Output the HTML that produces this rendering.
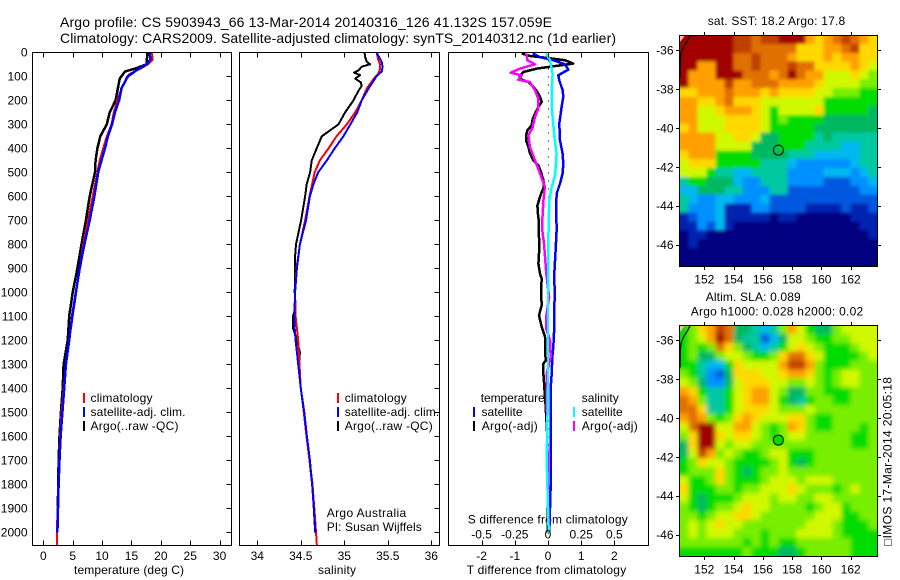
<!DOCTYPE html>
<html lang="en">
<head>
<meta charset="utf-8">
<title>Argo profile</title>
<style>
html,body{margin:0;padding:0;background:#fff;}
svg{display:block;font-family:"Liberation Sans",sans-serif;fill:#000;}
text{font-size:12px;}
.t14{font-size:14px;}
</style>
</head>
<body>
<svg id="chart" width="900" height="580" viewBox="0 0 900 580" xmlns="http://www.w3.org/2000/svg">
  <defs>
    <filter id="soft-sst" filterUnits="userSpaceOnUse" x="640" y="0" width="260" height="300"><feGaussianBlur stdDeviation="1.5"/></filter>
    <filter id="soft-sla" filterUnits="userSpaceOnUse" x="640" y="290" width="260" height="290"><feGaussianBlur stdDeviation="2.4"/></filter>
    <clipPath id="clip-sst"><rect x="679" y="35" width="199" height="232"/></clipPath>
    <clipPath id="clip-sla"><rect x="679" y="325" width="199" height="232"/></clipPath>
  </defs>
  <text class="t14" x="60" y="27" textLength="492">Argo profile: CS 5903943_66 13-Mar-2014 20140316_126 41.132S 157.059E</text>
  <text class="t14" x="60" y="43" textLength="556">Climatology: CARS2009. Satellite-adjusted climatology: synTS_20140312.nc (1d earlier)</text>

  <text x="74" y="574" textLength="110">temperature (deg C)</text>
  <text x="318" y="574" textLength="38">salinity</text>
  <text x="466.7" y="574" textLength="159.5">T difference from climatology</text>
  <text x="467.7" y="523.5" textLength="160">S difference from climatology</text>

  <g>
    <rect x="83" y="393" width="2" height="10" fill="#f00"/>
    <text x="90.5" y="402" textLength="62">climatology</text>
    <rect x="83" y="407" width="2" height="10" fill="#00f"/>
    <text x="90.5" y="416" textLength="95">satellite-adj. clim.</text>
    <rect x="83" y="421" width="2" height="10" fill="#000"/>
    <text x="90.5" y="430" textLength="88">Argo(..raw -QC)</text>
  </g>
  <g>
    <rect x="337" y="393" width="2" height="10" fill="#f00"/>
    <text x="344.7" y="402" textLength="62">climatology</text>
    <rect x="337" y="407" width="2" height="10" fill="#00f"/>
    <text x="344.7" y="416" textLength="94.5">satellite-adj. clim.</text>
    <rect x="337" y="421" width="2" height="10" fill="#000"/>
    <text x="344.7" y="430" textLength="88">Argo(..raw -QC)</text>
  </g>
  <text x="326.7" y="517" textLength="79.5">Argo Australia</text>
  <text x="326.7" y="531" textLength="95">PI: Susan Wijffels</text>

  <g>
    <text x="707.7" y="25" textLength="137.5">sat. SST: 18.2 Argo: 17.8</text>
    <text x="705.7" y="301" textLength="95">Altim. SLA: 0.089</text>
    <text x="690.7" y="315.3" textLength="172.5">Argo h1000: 0.028 h2000: 0.02</text>
  </g>
  <text transform="translate(891.5,546) rotate(-90)" textLength="169">□IMOS 17-Mar-2014 20:05:18</text>

  <g id="layer-plots"></g>
  <g id="layer-maps"></g>

  <g>
    <text x="480.7" y="402" textLength="64">temperature</text>
    <text x="581.7" y="402" textLength="37">salinity</text>
    <rect x="473" y="407" width="2" height="10" fill="#00f"/>
    <text x="481.5" y="416" textLength="41">satellite</text>
    <rect x="473" y="421" width="2" height="10" fill="#000"/>
    <text x="481.7" y="430" textLength="56">Argo(-adj)</text>
    <rect x="573" y="407" width="2" height="10" fill="#0ff"/>
    <text x="581.7" y="416" textLength="41">satellite</text>
    <rect x="573" y="421" width="2" height="10" fill="#f0f"/>
    <text x="581.7" y="430" textLength="56">Argo(-adj)</text>
  </g>
</svg>
<script>
/* ---------- data ---------- */
const depthTicks = [0,100,200,300,400,500,600,700,800,900,1000,1100,1200,1300,1400,1500,1600,1700,1800,1900,2000];
const tempTicks = [0,5,10,15,20,25,30];
const salTicks = [34,34.5,35,35.5,36];
const salTickLabels = ['34','34.5','35','35.5','36'];
const tDiffTicks = [-2,-1,0,1,2];
const sDiffTicks = [-0.5,-0.25,0,0.25,0.5];
const sDiffTickLabels = ['-0.5','-0.25','0','0.25','0.5'];
const lonTicks = [152,154,156,158,160,162];
const latTicks = [-36,-38,-40,-42,-44,-46];

const argoTempDepth = [0,50,68,80,110,150,200,250,300,350,400,450,500,600,700,800,900,1000,1100,1200,1300,1400,1500,1600,1700,1800,1900,2000];
const argoTemp = [17.7,17.6,15.6,13.9,13.0,12.7,12.3,11.3,10.8,9.7,9.2,8.9,8.8,7.9,7.25,6.5,5.8,5.0,4.4,4.15,3.45,3.3,3.0,2.75,2.6,2.55,2.45,2.4];
const climTempDepth = [0,30,50,70,90,100,150,200,250,300,350,400,450,500,600,700,800,900,1000,1100,1200,1300,1400,1500,1600,1700,1800,1900,2000,2055];
const climTemp = [18.5,18.6,17.8,16.4,14.7,14.3,13.3,12.6,12,11.6,10.8,10.2,9.6,9.2,8.4,7.6,6.8,6.2,5.6,5,4.4,3.9,3.45,3.1,2.85,2.7,2.55,2.45,2.3,2.3];
const satTempDepth = [0,30,50,70,90,100,150,200,250,300,350,400,450,500,600,700,800,900,1000,1100,1200,1300,1400,1500,1600,1700,1800,1900,2000];
const satTemp = [18.1,18.2,17.6,16.1,15,14.4,13.3,12.9,12.2,11.7,11,10.5,9.9,9.35,8.7,7.9,7.0,6.2,5.55,4.9,4.4,3.85,3.55,3.25,2.95,2.75,2.6,2.5,2.4];

const argoSalDepth = [0,20,40,50,60,75,85,95,110,125,140,160,200,250,300,330,350,400,450,500,550,600,700,800,850,900,1000,1060,1100,1150,1180,1250,1300,1400,1500,1600,1700,1800,1900,2000];
const argoSal = [35.232,35.24,35.259,35.298,35.2,35.163,35.113,35.182,35.125,35.19,35.2,35.163,35.106,35.01,34.933,34.818,34.741,34.683,34.626,34.607,34.568,34.549,34.503,34.445,34.434,34.434,34.43,34.44,34.41,34.41,34.44,34.49,34.48,34.5,34.54,34.57,34.6,34.63,34.65,34.665];
const climSalDepth = [0,30,50,70,90,100,150,200,250,300,350,400,450,500,550,600,700,800,900,1000,1100,1200,1400,1500,1600,1700,1800,1900,2000,2055];
const climSal = [35.37,35.39,35.41,35.41,35.39,35.36,35.26,35.2,35.125,35.03,34.91,34.82,34.72,34.66,34.63,34.6,34.55,34.49,34.45,34.435,34.44,34.47,34.5,34.535,34.565,34.6,34.635,34.655,34.675,34.685];
const satSalDepth = [0,20,40,60,80,100,150,200,250,300,350,400,450,500,550,600,700,800,900,1000,1100,1150,1200,1300,1400,1500,1600,1700,1800,1900,2000];
const satSal = [35.37,35.4,35.43,35.44,35.43,35.37,35.28,35.2,35.15,35.07,34.99,34.89,34.8,34.7,34.645,34.605,34.56,34.49,34.455,34.435,34.425,34.43,34.44,34.47,34.5,34.54,34.57,34.605,34.63,34.65,34.67];

const argoTDiffDepth = [5,15,20,33,47,68,82,96,110,124,144,165,186,207,228,249,278,304,325,346,367,394,422,450,471,499,533,561,582,610,639,675,710,742,811,881,922,943,992,1054,1096,1144,1186,1256,1283,1297,1339,1394,1450,1600,1800,2000];
const argoTDiff = [-0.79,-0.56,-0.24,0.51,0.76,-0.34,-0.74,-0.84,-0.86,-0.59,-0.44,-0.32,-0.24,-0.19,-0.29,-0.37,-0.46,-0.49,-0.62,-0.66,-0.66,-0.59,-0.54,-0.44,-0.29,-0.21,-0.14,-0.12,-0.19,-0.26,-0.32,-0.30,-0.27,-0.28,-0.26,-0.29,-0.24,-0.19,-0.21,-0.19,-0.27,-0.19,-0.09,-0.09,-0.06,-0.14,-0.14,-0.11,-0.08,-0.02,-0.01,0];
const satTDiffDepth = [5,20,33,50,72,96,117,158,186,228,297,367,422,464,505,547,589,644,742,826,922,992,1144,1228,1270,1339,1394,1600,1800,2000];
const satTDiff = [-0.46,-0.24,0.16,0.51,0.61,0.31,0.34,0.44,0.46,0.41,0.34,0.36,0.44,0.46,0.44,0.36,0.26,0.25,0.26,0.23,0.19,0.2,0.19,0.16,0.13,0.11,0.08,0.08,0.08,0.04];
const argoSDiffDepth = [5,33,50,68,85,96,114,124,158,193,235,269,314,346,394,450,505,561,617,700,742,797,867,922,1020,1108,1150,1200,1270,1339,1394,1600,2000];
const argoSDiff = [-0.161,-0.156,-0.098,-0.211,-0.281,-0.198,-0.224,-0.136,-0.098,-0.073,-0.073,-0.098,-0.116,-0.148,-0.136,-0.098,-0.06,-0.023,-0.035,-0.043,-0.043,-0.03,-0.02,-0.013,0.008,-0.015,-0.015,0.015,0.02,-0.01,-0.01,-0.005,0.005];
const satSDiffDepth = [5,33,89,158,242,353,422,478,513,561,617,769,1000,1400,1700,2000];
const satSDiff = [-0.015,0.015,0.035,0.028,0.03,0.048,0.065,0.058,0.053,0.028,0.01,0.003,0,0,-0.01,0.005];

/* colour-level index per map cell (rows north to south) */
const sstLevels = [
[14,14,14,14,14,14,13,13,12,13,13,14,14,14,11,10,11,12,13,12,11,10],
[14,14,14,14,14,14,13,13,12,12,12,12,12,10,10,10,11,11,12,13,10,10],
[14,14,14,14,14,14,12,12,13,12,12,12,11,10,10,10,11,10,11,11,10,10],
[14,14,11,11,14,14,12,12,13,12,12,12,13,12,12,10,10,10,10,11,10,9],
[14,11,11,11,14,14,14,12,12,12,11,12,14,12,11,11,9,9,9,10,9,8],
[14,11,11,11,11,13,11,11,12,12,12,11,11,11,11,10,9,9,9,9,8,8],
[10,10,11,11,11,12,11,11,11,10,11,10,10,10,10,9,9,8,8,8,7,7],
[11,11,10,10,11,12,10,10,10,9,9,9,9,9,9,9,7,7,7,7,7,7],
[11,11,9,9,10,11,11,11,10,9,7,9,9,9,9,10,7,7,7,7,7,6],
[11,11,9,9,9,10,10,10,10,9,7,8,7,7,7,7,6,6,6,6,6,6],
[10,11,9,9,9,10,10,10,10,9,7,7,7,7,7,6,6,6,6,6,6,6],
[11,11,11,11,9,9,10,10,9,6,6,7,7,7,7,5,6,5,5,5,5,5],
[11,11,11,11,9,9,9,9,6,6,6,7,7,7,5,5,5,5,4,4,5,5],
[10,11,11,11,7,7,7,7,6,6,6,6,5,5,5,4,4,4,4,4,5,5],
[9,10,10,10,7,7,7,7,7,5,5,5,4,3,3,3,3,3,3,4,5,5],
[9,9,9,7,5,5,4,4,5,5,5,5,3,3,3,3,4,4,4,3,4,5],
[5,7,7,6,6,6,4,3,3,5,5,5,3,3,3,3,2,2,2,3,3,4],
[4,4,6,6,6,5,5,3,3,3,5,5,2,2,2,2,2,2,2,2,3,3],
[5,4,3,3,4,4,3,3,3,4,2,2,2,2,2,2,2,2,2,2,2,2],
[5,3,3,3,4,1,1,1,3,3,2,2,2,2,1,1,1,1,2,1,1,2],
[1,2,3,3,4,1,1,1,1,1,0,1,1,0,0,0,0,0,0,1,1,1],
[1,1,3,2,4,1,0,0,0,0,0,0,0,0,0,0,0,0,0,0,1,1],
[0,1,1,0,0,0,0,0,0,0,0,0,0,0,0,0,0,0,0,0,0,1],
[0,1,0,0,0,0,0,0,0,0,0,0,0,0,0,0,0,0,0,0,0,0],
[0,0,0,0,0,0,0,0,0,0,0,0,0,0,0,0,0,0,0,0,0,0],
[0,0,0,0,0,0,0,0,0,0,0,0,0,0,0,0,0,0,0,0,0,0]
];
const slaLevels = [
[7,8,10,11,13,12,6,6,5,4,5,8,11,9,7,6,6,8,9,9,9,9],
[7,8,9,11,14,12,6,5,5,2,4,6,9,9,8,7,7,8,8,9,9,9],
[7,8,7,8,12,10,8,6,5,4,5,7,9,10,9,8,7,7,7,8,9,9],
[7,8,6,6,8,9,9,8,7,7,8,10,12,12,10,9,7,7,7,7,8,9],
[7,7,5,4,4,7,10,9,9,9,9,11,13,13,11,8,7,7,7,8,8,8],
[8,7,5,3,2,6,10,10,10,9,9,10,11,11,10,8,7,8,9,9,8,8],
[9,8,6,3,3,6,9,10,10,10,9,9,8,8,9,8,7,8,9,9,8,8],
[11,10,7,5,5,7,9,10,11,11,9,8,6,6,8,8,7,7,7,8,8,8],
[12,11,8,5,5,7,9,10,11,11,9,7,6,5,7,8,8,7,7,8,8,8],
[12,12,10,5,5,7,9,10,10,10,9,8,8,8,9,8,8,8,8,8,8,8],
[11,12,11,8,7,8,10,11,10,9,9,9,10,10,8,7,7,8,8,8,8,8],
[9,12,14,14,9,9,11,11,9,8,7,8,11,10,8,7,7,8,8,8,7,8],
[8,10,14,14,10,9,10,10,9,8,7,8,9,9,8,8,8,8,8,7,7,8],
[6,10,14,14,9,8,9,9,8,8,8,8,8,8,8,8,8,8,8,7,7,8],
[6,9,13,11,8,9,8,7,7,8,9,9,7,7,7,8,8,8,8,8,8,8],
[7,8,10,9,9,8,7,7,7,7,8,9,7,6,7,8,8,8,8,8,8,8],
[7,8,8,8,10,8,7,6,7,8,8,9,8,8,8,8,8,8,8,8,8,8],
[9,7,7,8,10,8,7,7,7,8,9,9,9,8,9,9,9,8,8,8,8,8],
[10,7,7,7,8,8,7,8,8,9,9,9,10,9,8,8,8,7,8,9,8,8],
[9,7,6,7,7,7,8,9,9,9,8,9,9,8,8,9,9,8,8,8,8,8],
[8,7,6,7,8,8,9,10,9,9,8,8,8,8,7,8,9,9,7,8,8,8],
[8,8,7,8,9,9,10,10,9,8,8,8,8,8,8,9,9,9,7,7,8,8],
[8,9,8,9,10,9,9,8,8,8,8,8,8,8,9,9,9,8,7,7,7,8],
[8,9,8,9,9,9,8,8,8,7,8,8,8,9,9,9,9,8,7,7,7,7],
[8,8,8,8,8,8,8,7,8,7,8,7,7,8,8,8,8,8,8,7,7,7],
[7,7,7,7,7,7,7,8,7,7,7,6,6,7,8,8,8,8,8,7,7,7]
];
const coastLon = [150.35,150.36,150.42,150.6,150.85,151.05];
const coastLat = [-37.4,-36.5,-36.1,-35.8,-35.5,-35.21];
const argoLon = [157.059];
const argoLat = [-41.132];
const argoSlaLevel = [7];

/* ---------- styles and axis functions ---------- */
const levelColors = ['#000080','#0020b0','#0058e0','#0090ff','#00b8f0','#00c8a0','#00b860','#00dc00','#78ee00','#d0f800','#ffd800','#ffa000','#e07000','#c04000','#a00000'];
const SVGNS = 'http://www.w3.org/2000/svg';
const plotLayer = document.getElementById('layer-plots');
const mapLayer = document.getElementById('layer-maps');

const panelTop = 52.5, panelBottom = 545.5;
const yDepth = d => 52.3 + 0.24 * d;
const xTemp = v => 43.3 + 5.877 * v;
const xSal = v => 257.3 + 87 * (v - 34);
const xTDiff = v => 548 + 33.2 * v;
const xSDiff = v => 548 + 132.8 * v;

const lonToX = lon => 704.3 + (lon - 152) * 14.64;
const mapCols = 22, mapRows = 26;
const lonW = 150.29, lonE = 163.82, latN = -35.21, latS = -47.08;

function shape(parent, tag, attrs) {
  const el = document.createElementNS(SVGNS, tag);
  for (const k in attrs) el.setAttribute(k, attrs[k]);
  parent.appendChild(el);
  return el;
}
function drawLine(parent, x1, y1, x2, y2) {
  return shape(parent, 'line', {x1, y1, x2, y2, stroke: '#000', 'stroke-width': 1, 'shape-rendering': 'crispEdges'});
}
function drawLabel(parent, x, y, str, anchor) {
  const t = shape(parent, 'text', {x, y, 'text-anchor': anchor});
  t.textContent = str;
  return t;
}
function drawProfile(parent, name, depths, values, xFn, color, width) {
  const pts = depths.map((d, i) => xFn(values[i]).toFixed(1) + ',' + yDepth(d).toFixed(1)).join(' ');
  const el = shape(parent, 'polyline', {points: pts, fill: 'none', stroke: color, 'stroke-width': width, 'stroke-linejoin': 'round', 'shape-rendering': 'crispEdges'});
  
  
  return el;
}
function drawPanel(name) {
  const g = shape(plotLayer, 'g', {});
  
  
  return g;
}
function drawFrame(g, left, right) {
  const frame = shape(g, 'rect', {x: left, y: panelTop, width: right - left, height: panelBottom - panelTop, fill: 'none', stroke: '#000', 'stroke-width': 1, 'shape-rendering': 'crispEdges'});
  
  
}
function drawXTicks(g, ticks, xFn, labels, labelY) {
  ticks.forEach((v, i) => {
    const x = Math.round(xFn(v)) + 0.5;
    const top = drawLine(g, x, panelTop, x, panelTop + 5);
    
    
    const bottom = drawLine(g, x, panelBottom, x, panelBottom - 5);
    
    
    const t = drawLabel(g, xFn(v), labelY, labels[i], 'middle');
    
    
  });
}
function drawDepthTicks(g, right) {
  depthTicks.forEach(d => {
    const y = Math.round(yDepth(d)) + 0.5;
    const tick = drawLine(g, right, y, right - 5, y);
    
    
  });
}

/* ---------- profile panels ---------- */
const tempPanel = drawPanel('temperature-panel');
drawProfile(tempPanel, 'argo-temperature-line', argoTempDepth, argoTemp, xTemp, '#000', 2.5);
drawProfile(tempPanel, 'climatology-temperature-line', climTempDepth, climTemp, xTemp, '#f00', 2);
drawProfile(tempPanel, 'satellite-temperature-line', satTempDepth, satTemp, xTemp, '#00f', 2.5);
drawFrame(tempPanel, 32.5, 231.5);
drawDepthTicks(tempPanel, 231.5);
drawXTicks(tempPanel, tempTicks, xTemp, tempTicks.map(String), 560);
depthTicks.forEach(d => {
  const t = drawLabel(tempPanel, 27.5, yDepth(d) + 4.3, String(d), 'end');
  
  
});

const salPanel = drawPanel('salinity-panel');
drawProfile(salPanel, 'argo-salinity-line', argoSalDepth, argoSal, xSal, '#000', 2);
drawProfile(salPanel, 'climatology-salinity-line', climSalDepth, climSal, xSal, '#f00', 2);
drawProfile(salPanel, 'satellite-salinity-line', satSalDepth, satSal, xSal, '#00f', 2);
drawFrame(salPanel, 239.5, 439.5);
drawDepthTicks(salPanel, 439.5);
drawXTicks(salPanel, salTicks, xSal, salTickLabels, 560);

const diffPanel = drawPanel('difference-panel');
const zeroLine = shape(diffPanel, 'line', {x1: 548.5, y1: panelTop, x2: 548.5, y2: panelBottom, stroke: '#000', 'stroke-width': 1, 'stroke-dasharray': '1 7', 'shape-rendering': 'crispEdges'});


drawProfile(diffPanel, 'argo-t-difference-line', argoTDiffDepth, argoTDiff, xTDiff, '#000', 2.5);
drawProfile(diffPanel, 'satellite-t-difference-line', satTDiffDepth, satTDiff, xTDiff, '#00f', 2.5);
drawProfile(diffPanel, 'argo-s-difference-line', argoSDiffDepth, argoSDiff, xSDiff, '#f0f', 2.5);
drawProfile(diffPanel, 'satellite-s-difference-line', satSDiffDepth, satSDiff, xSDiff, '#0ff', 2.5);
drawFrame(diffPanel, 448.5, 648.5);
drawXTicks(diffPanel, tDiffTicks, xTDiff, tDiffTicks.map(String), 560);
sDiffTicks.forEach((v, i) => {
  const t = drawLabel(diffPanel, xSDiff(v), 538.5, sDiffTickLabels[i], 'middle');
  
  
});

/* ---------- maps ---------- */
function drawMap(name, top, bottom, levels, clipId, filterId, fillMarker, markerLevel) {
  const g = shape(mapLayer, 'g', {});
  
  
  const latToY = lat => (top + 15.37) + (-36 - lat) * 19.43;
  const lonStep = (lonE - lonW) / mapCols, latStep = (latN - latS) / mapRows;
  const clip = shape(g, 'g', {'clip-path': 'url(#' + clipId + ')'});
  
  
  const soft = shape(clip, 'g', {filter: 'url(#' + filterId + ')'});
  
  
  levels.forEach((row, r) => {
    row.forEach((level, c) => {
      let x0 = lonToX(lonW + c * lonStep), x1 = lonToX(lonW + (c + 1) * lonStep);
      let y0 = latToY(latN - r * latStep), y1 = latToY(latN - (r + 1) * latStep);
      if (c === 0) x0 -= 16;
      if (c === mapCols - 1) x1 += 16;
      if (r === 0) y0 -= 16;
      if (r === mapRows - 1) y1 += 16;
      const cell = shape(soft, 'rect', {x: x0.toFixed(1), y: y0.toFixed(1), width: (x1 - x0 + 0.6).toFixed(1), height: (y1 - y0 + 0.6).toFixed(1), fill: levelColors[level], 'shape-rendering': 'crispEdges'});
      
      
    });
  });
  const landPts = [[679.5, top + 0.5], [685, top + 0.5], [680, top + 7], [679.5, top + 7]];
  const land = shape(g, 'polygon', {points: landPts.map(p => p.join(',')).join(' '), fill: '#f8c090'});
  
  
  const coastPts = coastLon.map((lon, i) => lonToX(lon).toFixed(1) + ',' + latToY(coastLat[i]).toFixed(1)).join(' ');
  const coast = shape(g, 'polyline', {points: coastPts, fill: 'none', stroke: '#000', 'stroke-width': 1.2});
  
  
  const frame = shape(g, 'rect', {x: 679.5, y: top + 0.5, width: 198, height: bottom - top, fill: 'none', stroke: '#000', 'stroke-width': 1, 'shape-rendering': 'crispEdges'});
  
  
  lonTicks.forEach(lon => {
    const x = Math.round(lonToX(lon)) + 0.5;
    const t1 = drawLine(g, x, top, x, top - 3);
    
    
    const t2 = drawLine(g, x, bottom + 1, x, bottom + 4);
    
    
    const lab = drawLabel(g, lonToX(lon), bottom + 17.5, String(lon), 'middle');
    
    
  });
  latTicks.forEach(lat => {
    const y = Math.round(latToY(lat)) + 0.5;
    const t1 = drawLine(g, 679, y, 676, y);
    
    
    const t2 = drawLine(g, 878, y, 881, y);
    
    
    const lab = drawLabel(g, 673.5, latToY(lat) + 4.3, String(lat), 'end');
    
    
  });
  const marker = shape(g, 'circle', {cx: lonToX(argoLon[0]).toFixed(1), cy: latToY(argoLat[0]).toFixed(1), r: 5, fill: fillMarker ? levelColors[markerLevel] : 'none', stroke: '#000', 'stroke-width': 1});
  
  
}
drawMap('sst-map', 35, 266, sstLevels, 'clip-sst', 'soft-sst', false, 0);
drawMap('sla-map', 325, 556, slaLevels, 'clip-sla', 'soft-sla', true, argoSlaLevel[0]);
</script>
</body>
</html>
